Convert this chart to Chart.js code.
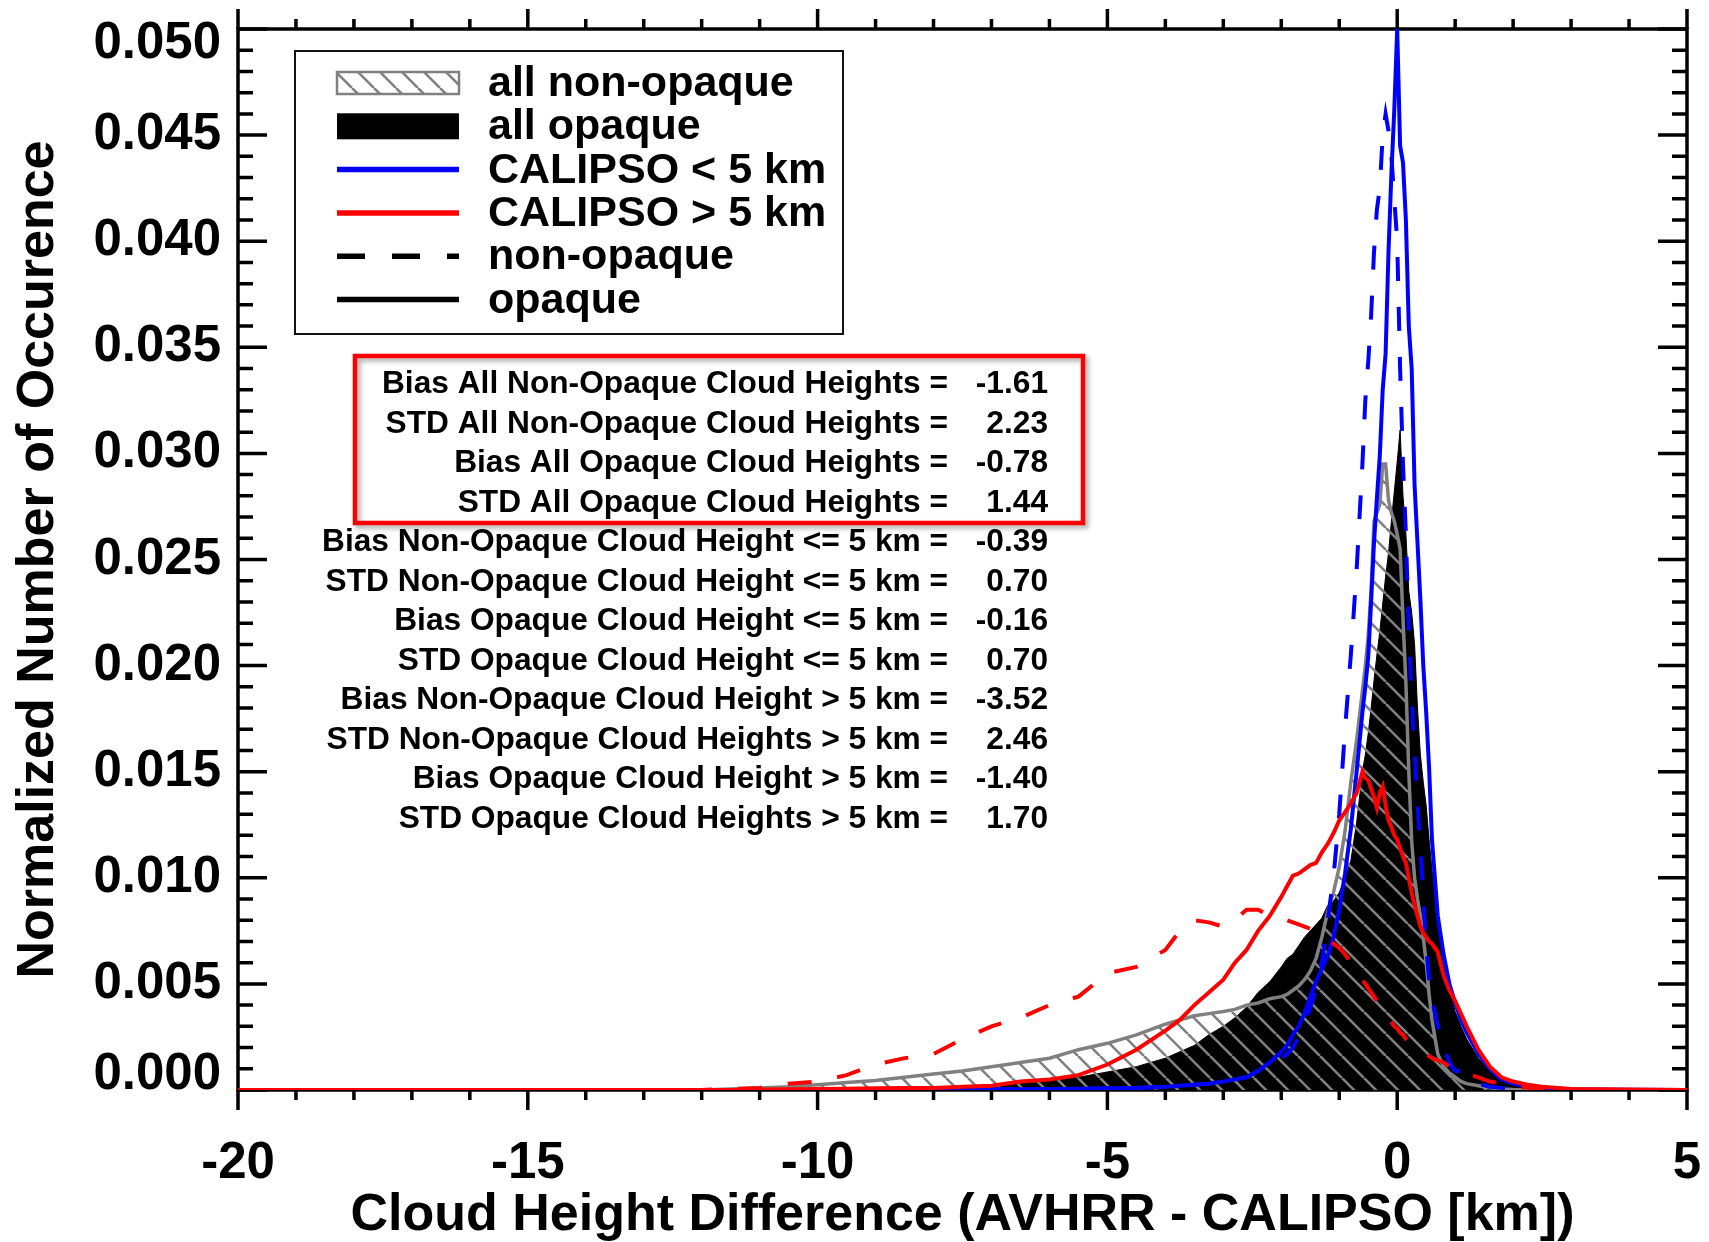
<!DOCTYPE html>
<html>
<head>
<meta charset="utf-8">
<title>Cloud Height Difference (AVHRR - CALIPSO)</title>
<script src="https://cdn.jsdelivr.net/npm/chart.js@4.4.1/dist/chart.umd.min.js"></script>
<style>
  html, body { margin: 0; padding: 0; background: #fff; }
  #wrap { width: 1709px; height: 1242px; position: relative; }
</style>
</head>
<body>
<div id="wrap"><canvas id="chart"></canvas></div>
<script>
// --- Data ---
// bin centres in km, shared by every curve
const diffKm = [
  -20, -12, -11.5, -11, -10.5, -10, -9.5, -9, -8.5, -8,
  -7.5, -7, -6.5, -6, -5.5, -5, -4.5, -4, -3.75, -3.5,
  -3.25, -3, -2.8, -2.6, -2.4, -2.2, -2, -1.9, -1.8, -1.7,
  -1.6, -1.5, -1.4, -1.3, -1.2, -1.1, -1, -0.9, -0.8, -0.7,
  -0.6, -0.55, -0.5, -0.45, -0.4, -0.35, -0.3, -0.25, -0.2, -0.15,
  -0.1, -0.05, 0, 0.05, 0.1, 0.15, 0.2, 0.25, 0.3, 0.35,
  0.4, 0.45, 0.5, 0.55, 0.6, 0.7, 0.8, 0.9, 1, 1.1,
  1.2, 1.4, 1.6, 1.8, 2, 2.25, 2.5, 3, 3.5, 4,
  5
];

// all non-opaque (grey hatched histogram)
const allNonOpaque = [
  0, 0, 0.00005, 0.0001, 0.00015, 0.00025, 0.00035, 0.00045, 0.0006, 0.00075,
  0.0009, 0.0011, 0.0013, 0.0015, 0.0019, 0.0022, 0.0026, 0.0031, 0.0033, 0.0035,
  0.0036, 0.0037, 0.0038, 0.0040, 0.0041, 0.0043, 0.0044, 0.0045, 0.0047, 0.0049,
  0.0052, 0.0056, 0.0062, 0.0072, 0.0084, 0.0093, 0.0105, 0.0122, 0.0145, 0.0165,
  0.0188, 0.0200, 0.0214, 0.0236, 0.0268, 0.0272, 0.0276, 0.0295, 0.0295, 0.0278,
  0.0272, 0.0268, 0.0262, 0.0255, 0.0222, 0.0192, 0.0150, 0.0117, 0.0100, 0.0090,
  0.0082, 0.0072, 0.0060, 0.0045, 0.0033, 0.0017, 0.0011, 0.0008, 0.0006, 0.0004,
  0.0003, 0.0002, 0.0001, 0.00005, 0.00002, 0, 0, 0, 0, 0,
  0
];

// all opaque (black filled histogram)
const allOpaque = [
  0, 0, 0.00001, 0.00002, 0.00003, 0.00004, 0.00005, 0.00006, 0.00008, 0.0001,
  0.00012, 0.0002, 0.0003, 0.00045, 0.0006, 0.00085, 0.0011, 0.0015, 0.0018, 0.0021,
  0.0026, 0.0030, 0.0034, 0.0039, 0.0046, 0.0051, 0.0058, 0.0062, 0.0064, 0.0068,
  0.0072, 0.0075, 0.0078, 0.0081, 0.0087, 0.0089, 0.0093, 0.0100, 0.0108, 0.0126,
  0.0150, 0.0158, 0.0168, 0.0180, 0.0193, 0.0205, 0.0216, 0.0229, 0.0242, 0.0253,
  0.0268, 0.0282, 0.0296, 0.0311, 0.0280, 0.0262, 0.0235, 0.0225, 0.0210, 0.0180,
  0.0158, 0.0145, 0.0134, 0.0118, 0.0104, 0.0078, 0.0060, 0.0048, 0.0037, 0.0030,
  0.0024, 0.0015, 0.0009, 0.0005, 0.0003, 0.0002, 0.0001, 0.00005, 0.00002, 0.00001,
  0
];

// CALIPSO < 5 km, opaque (blue solid)
const lowOpaque = [
  0, 0, 0, 0, 0, 0, 0.00001, 0.00001, 0.00002, 0.00002,
  0.00003, 0.00003, 0.00004, 0.00005, 0.00006, 0.00008, 0.0001, 0.00015, 0.0002, 0.00025,
  0.0003, 0.0004, 0.0005, 0.0006, 0.0009, 0.0013, 0.0018, 0.0021, 0.0026, 0.0030,
  0.0036, 0.0044, 0.0051, 0.0057, 0.0063, 0.0072, 0.0085, 0.0102, 0.0123, 0.0150,
  0.0178, 0.0190, 0.0204, 0.0230, 0.0258, 0.0279, 0.0299, 0.0330, 0.0347, 0.0395,
  0.0432, 0.0462, 0.0500, 0.0445, 0.0437, 0.0410, 0.0360, 0.0340, 0.0285, 0.0258,
  0.0231, 0.0200, 0.0178, 0.0152, 0.0118, 0.0082, 0.0064, 0.0050, 0.0041, 0.0033,
  0.0027, 0.0017, 0.0010, 0.0005, 0.0003, 0.00015, 0.0001, 0.00004, 0.00002, 0.00001,
  0
];

// CALIPSO < 5 km, non-opaque (blue dashed)
const lowNonOpaque = [
  0, 0, 0, 0, 0, 0, 0, 0.00001, 0.00001, 0.00001,
  0.00002, 0.00002, 0.00003, 0.00004, 0.00005, 0.00008, 0.0001, 0.00015, 0.0002, 0.00025,
  0.0003, 0.0004, 0.0005, 0.0006, 0.0009, 0.0012, 0.0015, 0.0017, 0.0020, 0.0025,
  0.0031, 0.0039, 0.0047, 0.0060, 0.0080, 0.0100, 0.0130, 0.0170, 0.0205, 0.0245,
  0.0295, 0.0325, 0.0343, 0.0365, 0.0395, 0.0415, 0.0425, 0.0450, 0.0460, 0.0452,
  0.0440, 0.0420, 0.0400, 0.0340, 0.0295, 0.0262, 0.0216, 0.0185, 0.0160, 0.0135,
  0.0115, 0.0092, 0.0068, 0.0052, 0.0043, 0.0030, 0.0020, 0.0013, 0.0009, 0.0009,
  0.0006, 0.0003, 0.00015, 0.0001, 0.00005, 0.00003, 0, 0, 0, 0,
  0
];

// CALIPSO > 5 km, opaque (red solid)
const highOpaque = [
  0, 0, 0, 0.00002, 0.00003, 0.00005, 0.00006, 0.00008, 0.0001, 0.0001,
  0.00015, 0.0002, 0.0004, 0.0005, 0.0007, 0.0012, 0.0019, 0.0028, 0.0033, 0.0040,
  0.0046, 0.0052, 0.0060, 0.0066, 0.0075, 0.0082, 0.0091, 0.0096, 0.0101, 0.0102,
  0.0104, 0.0106, 0.0107, 0.0112, 0.0116, 0.0121, 0.0127, 0.0131, 0.0135, 0.0140,
  0.0150, 0.0147, 0.0146, 0.0142, 0.0138, 0.0133, 0.0140, 0.0143, 0.0134, 0.0127,
  0.0124, 0.0120, 0.0118, 0.0114, 0.0110, 0.0107, 0.0100, 0.0093, 0.0087, 0.0082,
  0.0077, 0.0074, 0.0072, 0.0070, 0.0069, 0.0065, 0.0054, 0.0047, 0.0042, 0.0036,
  0.0030, 0.0019, 0.0011, 0.0006, 0.0004, 0.00025, 0.00015, 0.00005, 0.00003, 0.00002,
  0
];

// CALIPSO > 5 km, non-opaque (red dashed)
const highNonOpaque = [
  0, 0, 0.00005, 0.0001, 0.0003, 0.0004, 0.0007, 0.0012, 0.0015, 0.0017,
  0.0024, 0.0030, 0.0034, 0.0040, 0.0044, 0.0055, 0.0058, 0.0066, 0.0075, 0.0080,
  0.0079, 0.0077, 0.0080, 0.0085, 0.0085, 0.0082, 0.0081, 0.0080, 0.0079, 0.0078,
  0.0077, 0.0076, 0.0075, 0.0073, 0.0071, 0.0069, 0.0067, 0.0064, 0.0060, 0.0056,
  0.0052, 0.0050, 0.0048, 0.0046, 0.0044, 0.0042, 0.0041, 0.0039, 0.0036, 0.0034,
  0.0032, 0.0030, 0.0029, 0.0027, 0.0026, 0.0024, 0.0023, 0.0022, 0.0021, 0.0020,
  0.0019, 0.0018, 0.0017, 0.0016, 0.0015, 0.0014, 0.0013, 0.0011, 0.0010, 0.0009,
  0.0008, 0.0006, 0.0004, 0.0003, 0.0002, 0.0001, 0.00005, 0.00002, 0, 0,
  0
];

const xTickLabels = [-20, -15, -10, -5, 0, 5];
const yTickLabels = ['0.000', '0.005', '0.010', '0.015', '0.020', '0.025',
                     '0.030', '0.035', '0.040', '0.045', '0.050'];

const legendLabels = ['all non-opaque', 'all opaque', 'CALIPSO < 5 km',
                      'CALIPSO > 5 km', 'non-opaque', 'opaque'];

const statLabels = [
  'Bias All Non-Opaque Cloud Heights =',
  'STD All Non-Opaque Cloud Heights =',
  'Bias All Opaque Cloud Heights =',
  'STD All Opaque Cloud Heights =',
  'Bias Non-Opaque Cloud Height <= 5 km =',
  'STD Non-Opaque Cloud Height <= 5 km =',
  'Bias Opaque Cloud Height <= 5 km =',
  'STD Opaque Cloud Height <= 5 km =',
  'Bias Non-Opaque Cloud Height > 5 km =',
  'STD Non-Opaque Cloud Heights > 5 km =',
  'Bias Opaque Cloud Height > 5 km =',
  'STD Opaque Cloud Heights > 5 km ='
];
const statValues = ['-1.61', '2.23', '-0.78', '1.44', '-0.39', '0.70',
                    '-0.16', '0.70', '-3.52', '2.46', '-1.40', '1.70'];

// --- Styling ---
const FONT = '"Liberation Sans", Arial, Helvetica, sans-serif';
const BLUE = '#0000ff';
const RED = '#ff0000';
const GREY = '#808080';

const canvas = document.getElementById('chart');
const ctx = canvas.getContext('2d');

// grey diagonal hatch (lines running top-left to bottom-right)
function makeHatch(size, color, width) {
  const tile = document.createElement('canvas');
  tile.width = size;
  tile.height = size;
  const g = tile.getContext('2d');
  g.strokeStyle = color;
  g.lineWidth = width;
  g.beginPath();
  for (const off of [-size, 0, size]) {
    g.moveTo(off, 0);
    g.lineTo(off + size, size);
  }
  g.stroke();
  return ctx.createPattern(tile, 'repeat');
}
const hatch = makeHatch(22, GREY, 2.6);

const toPoints = (vals) => diffKm.map((x, i) => ({ x: x, y: vals[i] }));

// legend + stats box are drawn on top of everything
function drawLegend(c) {
  const x0 = 295, y0 = 51, w = 548, h = 283;
  c.save();
  c.fillStyle = '#fff';
  c.fillRect(x0, y0, w, h);
  c.lineWidth = 2;
  c.strokeStyle = '#111';
  c.strokeRect(x0, y0, w, h);

  const sx0 = 337, sx1 = 459, tx = 488;
  legendLabels.forEach((label, i) => {
    const base = 96 + i * 43.3;
    const cy = base - 13;
    if (i === 0) {
      c.fillStyle = hatch;
      c.fillRect(sx0, cy - 11, sx1 - sx0, 22);
      c.lineWidth = 2.5;
      c.strokeStyle = GREY;
      c.strokeRect(sx0, cy - 11, sx1 - sx0, 22);
    } else if (i === 1) {
      c.fillStyle = '#000';
      c.fillRect(sx0, cy - 13, sx1 - sx0, 26);
    } else {
      c.beginPath();
      c.lineWidth = 5.5;
      c.strokeStyle = i === 2 ? BLUE : (i === 3 ? RED : '#000');
      c.setLineDash(i === 4 ? [28, 27] : []);
      c.moveTo(sx0, cy);
      c.lineTo(sx1, cy);
      c.stroke();
      c.setLineDash([]);
    }
    c.fillStyle = '#000';
    c.font = `bold 43px ${FONT}`;
    c.textAlign = 'left';
    c.textBaseline = 'alphabetic';
    c.fillText(label, tx, base);
  });
  c.restore();
}

function drawStats(c) {
  c.save();
  // red box with a soft shadow
  c.shadowColor = 'rgba(0,0,0,0.35)';
  c.shadowBlur = 5;
  c.shadowOffsetX = 3;
  c.shadowOffsetY = 3;
  c.lineWidth = 4.5;
  c.strokeStyle = RED;
  c.strokeRect(355, 356, 728, 167);
  c.shadowColor = 'transparent';

  c.fillStyle = '#000';
  c.font = `bold 31.7px ${FONT}`;
  c.textBaseline = 'alphabetic';
  statLabels.forEach((label, i) => {
    const base = 393 + i * 39.5;
    c.textAlign = 'right';
    c.fillText(label, 948, base);
    c.fillText(statValues[i], 1048, base);
  });
  c.restore();
}

// IDL-style frame: inward ticks left/right, outward ticks top/bottom
const framePlugin = {
  id: 'idlFrame',
  beforeDatasetsDraw(chart) {
    const { ctx: c, chartArea: a, scales: { x, y } } = chart;
    c.save();
    c.strokeStyle = '#000';
    c.lineWidth = 3.5;
    c.strokeRect(a.left, a.top, a.right - a.left, a.bottom - a.top);

    c.beginPath();
    for (let v = x.min; v <= x.max; v += 1) {
      const px = x.getPixelForValue(v);
      const len = v % 5 === 0 ? 20 : 10;
      c.moveTo(px, a.bottom);
      c.lineTo(px, a.bottom + len);
      c.moveTo(px, a.top);
      c.lineTo(px, a.top - len);
    }
    for (let k = 0; k <= 50; k++) {
      const py = y.getPixelForValue(k * 0.001);
      const len = k % 5 === 0 ? 29 : 15;
      c.moveTo(a.left, py);
      c.lineTo(a.left + len, py);
      c.moveTo(a.right, py);
      c.lineTo(a.right - len, py);
    }
    c.stroke();

    // y tick labels (end labels nudged inward like the original)
    c.fillStyle = '#000';
    c.font = `bold 51px ${FONT}`;
    c.textAlign = 'right';
    c.textBaseline = 'middle';
    y.ticks.forEach((t, i) => {
      let py = y.getPixelForValue(t.value);
      if (i === 0) py -= 15;
      if (i === y.ticks.length - 1) py += 15;
      c.fillText(yTickLabels[i], a.left - 17, py);
    });
    c.restore();
  },
  afterDraw(chart) {
    drawLegend(chart.ctx);
    drawStats(chart.ctx);
  }
};

new Chart(canvas, {
  type: 'line',
  data: {
    datasets: [
      {
        label: 'all non-opaque',
        data: toPoints(allNonOpaque),
        borderColor: GREY,
        borderWidth: 3.5,
        backgroundColor: hatch,
        fill: 'origin',
        order: 5
      },
      {
        label: 'all opaque',
        data: toPoints(allOpaque),
        borderColor: '#000',
        borderWidth: 1,
        backgroundColor: '#000',
        fill: 'origin',
        order: 6
      },
      {
        label: 'CALIPSO < 5 km non-opaque',
        data: toPoints(lowNonOpaque),
        borderColor: BLUE,
        borderWidth: 4,
        borderDash: [24, 26],
        fill: false,
        order: 4
      },
      {
        label: 'CALIPSO < 5 km opaque',
        data: toPoints(lowOpaque),
        borderColor: BLUE,
        borderWidth: 4,
        fill: false,
        order: 3
      },
      {
        label: 'CALIPSO > 5 km non-opaque',
        data: toPoints(highNonOpaque),
        borderColor: RED,
        borderWidth: 4,
        borderDash: [24, 26],
        fill: false,
        order: 2
      },
      {
        label: 'CALIPSO > 5 km opaque',
        data: toPoints(highOpaque),
        borderColor: RED,
        borderWidth: 4,
        fill: false,
        order: 1
      }
    ]
  },
  options: {
    responsive: true,
    maintainAspectRatio: false,
    devicePixelRatio: 1,
    animation: false,
    events: [],
    layout: { padding: { top: 29, right: 22, left: 0, bottom: 0 } },
    elements: {
      point: { radius: 0 },
      line: { tension: 0 }
    },
    plugins: {
      legend: { display: false },
      tooltip: { enabled: false }
    },
    scales: {
      x: {
        type: 'linear',
        position: 'bottom',
        min: -20,
        max: 5,
        // tick marks are drawn by the frame plugin; tickLength only spaces the labels
        grid: { display: false, drawTicks: true, tickLength: 48 },
        border: { display: false },
        afterBuildTicks: (s) => { s.ticks = xTickLabels.map(v => ({ value: v })); },
        afterFit: (s) => { s.height = 152; },
        ticks: {
          color: '#000',
          font: { family: FONT, size: 51, weight: 'bold', lineHeight: 1 },
          padding: 0,
          maxRotation: 0,
          autoSkip: false,
          callback: (v) => String(v)
        },
        title: {
          display: true,
          text: 'Cloud Height Difference (AVHRR - CALIPSO [km])',
          color: '#000',
          font: { family: FONT, size: 52, weight: 'bold', lineHeight: 1 },
          padding: { top: 0, bottom: 0 }
        }
      },
      y: {
        type: 'linear',
        min: 0,
        max: 0.05,
        grid: { display: false, drawTicks: false },
        border: { display: false },
        afterBuildTicks: (s) => { s.ticks = yTickLabels.map(v => ({ value: parseFloat(v) })); },
        afterFit: (s) => { s.width = 238; },
        ticks: { display: false },
        title: {
          display: true,
          text: 'Normalized Number of Occurence',
          color: '#000',
          font: { family: FONT, size: 52, weight: 'bold', lineHeight: 1 },
          padding: { top: 13, bottom: 0 }
        }
      }
    }
  },
  plugins: [framePlugin]
});
</script>
</body>
</html>
